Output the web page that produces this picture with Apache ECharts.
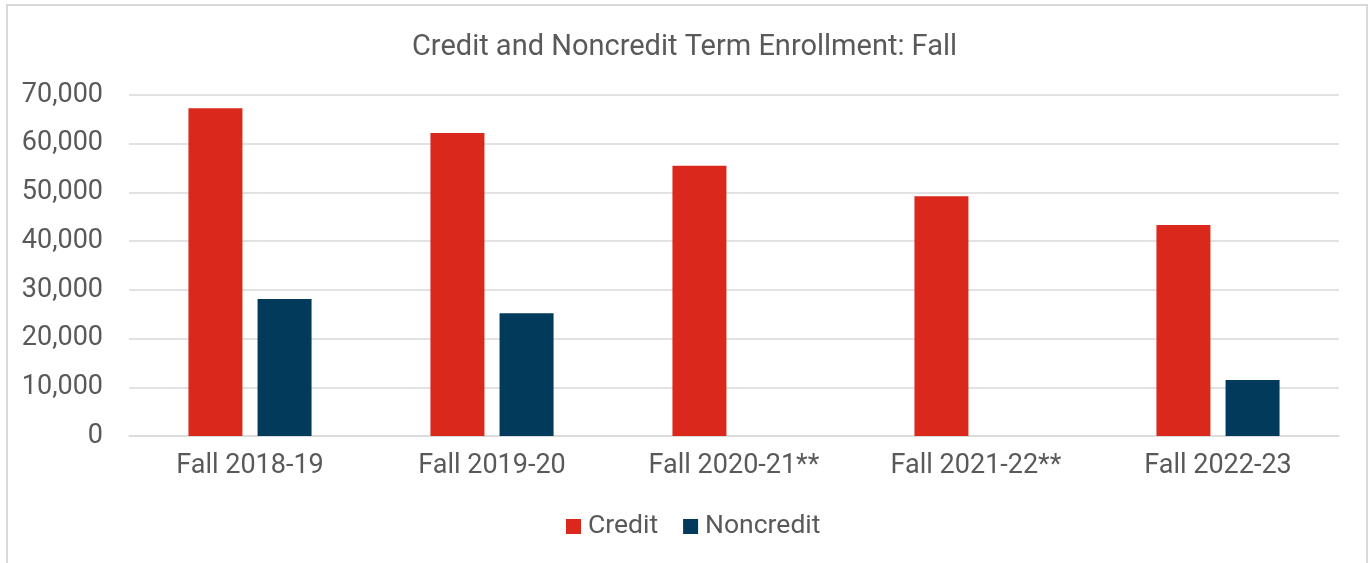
<!DOCTYPE html>
<html>
<head>
<meta charset="utf-8">
<script src="https://cdn.jsdelivr.net/npm/echarts@6/dist/echarts.min.js"></script>
<style>
  html, body { margin: 0; padding: 0; background: #fff; }
  #frame {
    position: absolute; left: 6px; top: 4px; width: 1362px; height: 570px;
    border: 2px solid #d9d9d9; box-sizing: border-box;
  }
  #chart { position: absolute; left: 0; top: 0; width: 1369px; height: 563px; }
</style>
</head>
<body>
<div id="frame"></div>
<div id="chart"></div>
<script>
var categories = ['Fall 2018-19', 'Fall 2019-20', 'Fall 2020-21**', 'Fall 2021-22**', 'Fall 2022-23'];
var credit = [67300, 62200, 55500, 49200, 43300];
var noncredit = [28100, 25200, null, null, 11500];

var dom = document.getElementById('chart');
var myChart = echarts.init(dom, null, { renderer: 'canvas' });

var textColor = '#595959';
var font = 'Roboto';

var option = {
  animation: false,
  title: {
    text: 'Credit and Noncredit Term Enrollment: Fall',
    left: 'center',
    top: 28,
    textStyle: { fontFamily: font, fontSize: 29, fontWeight: 'normal', color: textColor }
  },
  legend: {
    bottom: 18,
    left: 561,
    itemWidth: 15,
    itemHeight: 15,
    itemGap: 25,
    icon: 'rect',
    textStyle: { fontFamily: font, fontSize: 26.5, color: textColor, padding: [0, 0, 0, 2] },
    data: ['Credit', 'Noncredit']
  },
  grid: { left: 129, right: 30, top: 95, bottom: 127, containLabel: false },
  xAxis: {
    type: 'category',
    data: categories,
    axisTick: { show: false },
    axisLine: { lineStyle: { color: '#d9d9d9', width: 1.5 } },
    axisLabel: { fontFamily: font, fontSize: 27, color: textColor, margin: 17 }
  },
  yAxis: {
    type: 'value',
    min: 0,
    max: 70000,
    interval: 10000,
    axisLine: { show: false },
    axisTick: { show: false },
    splitLine: { lineStyle: { color: '#d9d9d9', width: 1.5 } },
    axisLabel: {
      fontFamily: font, fontSize: 27, color: textColor, margin: 26,
      formatter: function (v) { return v.toLocaleString('en-US'); }
    }
  },
  series: [
    {
      name: 'Credit',
      type: 'bar',
      data: credit,
      barWidth: 54,
      barGap: '28%',
      itemStyle: { color: '#DA291C' }
    },
    {
      name: 'Noncredit',
      type: 'bar',
      data: noncredit,
      barWidth: 54,
      itemStyle: { color: '#023A5C' }
    }
  ]
};

myChart.setOption(option);
window.addEventListener('resize', myChart.resize);
</script>
</body>
</html>
